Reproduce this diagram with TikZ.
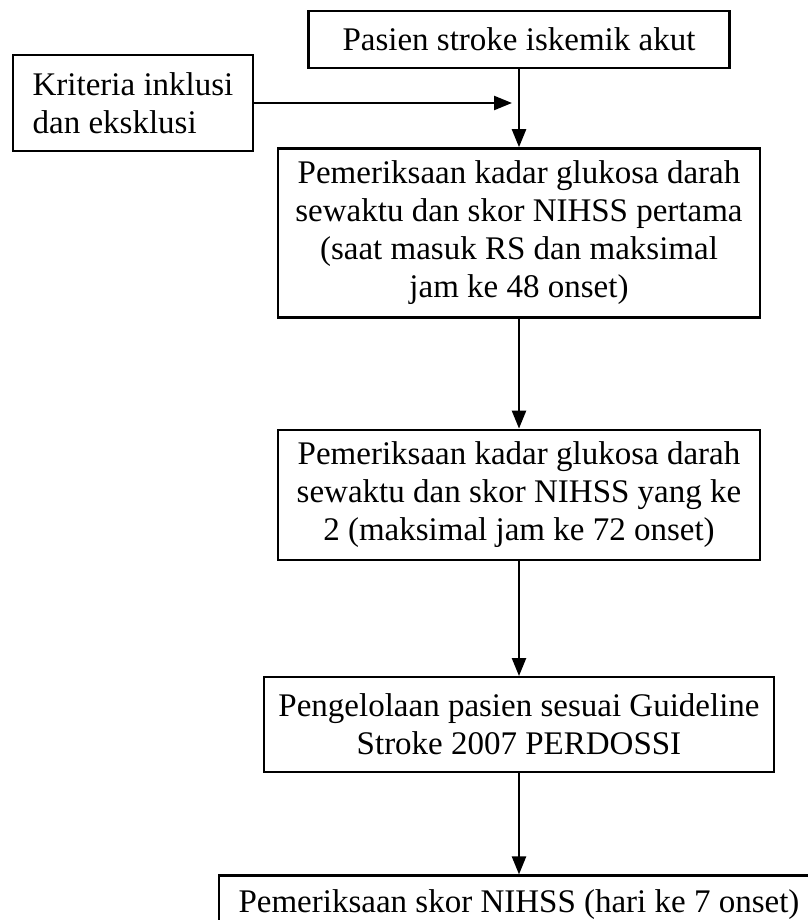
\documentclass[tikz,border=0pt]{standalone}
\usepackage{fontspec}
\setmainfont{Liberation Serif}
\usetikzlibrary{positioning,arrows.meta}

\begin{document}
\begin{tikzpicture}[x=1pt, y=-1pt,
    box/.style={draw, line width=2.4pt, align=center, inner sep=0pt,
      font=\fontsize{33}{38}\selectfont},
    arr/.style={-{Triangle[length=18pt,width=14pt]}, line width=2.4pt}]
    \useasboundingbox (0,0) rectangle (807,920);
    \node[box, minimum width=421pt, minimum height=57pt] (pasien) at (519,39.5) {Pasien stroke iskemik akut};
    \node[box, align=left, minimum width=240pt, minimum height=96pt] (kriteria) at (133,103) {Kriteria inklusi\\dan eksklusi};
    \node[box, below=78pt of pasien, minimum width=482pt, minimum height=169pt] (periksa1)
      {Pemeriksaan kadar glukosa darah\\sewaktu dan skor NIHSS pertama\\(saat masuk RS dan maksimal\\jam ke 48 onset)};
    \node[box, below=110pt of periksa1, minimum width=482pt, minimum height=130pt] (periksa2)
      {Pemeriksaan kadar glukosa darah\\sewaktu dan skor NIHSS yang ke\\2 (maksimal jam ke 72 onset)};
    \node[box, below=115pt of periksa2, minimum width=510pt, minimum height=95pt] (kelola)
      {Pengelolaan pasien sesuai Guideline\\Stroke 2007 PERDOSSI};
    \node[box, below=101pt of kelola, minimum width=600pt, minimum height=57pt] (nihss)
      {Pemeriksaan skor NIHSS (hari ke 7 onset)};
    \coordinate (masuk) at (512,103);
    \draw[arr] (kriteria) -- (masuk);
    \draw[arr] (pasien) -- (periksa1);
    \draw[arr] (periksa1) -- (periksa2);
    \draw[arr] (periksa2) -- (kelola);
    \draw[arr] (kelola) -- (nihss);
\end{tikzpicture}
\end{document}
